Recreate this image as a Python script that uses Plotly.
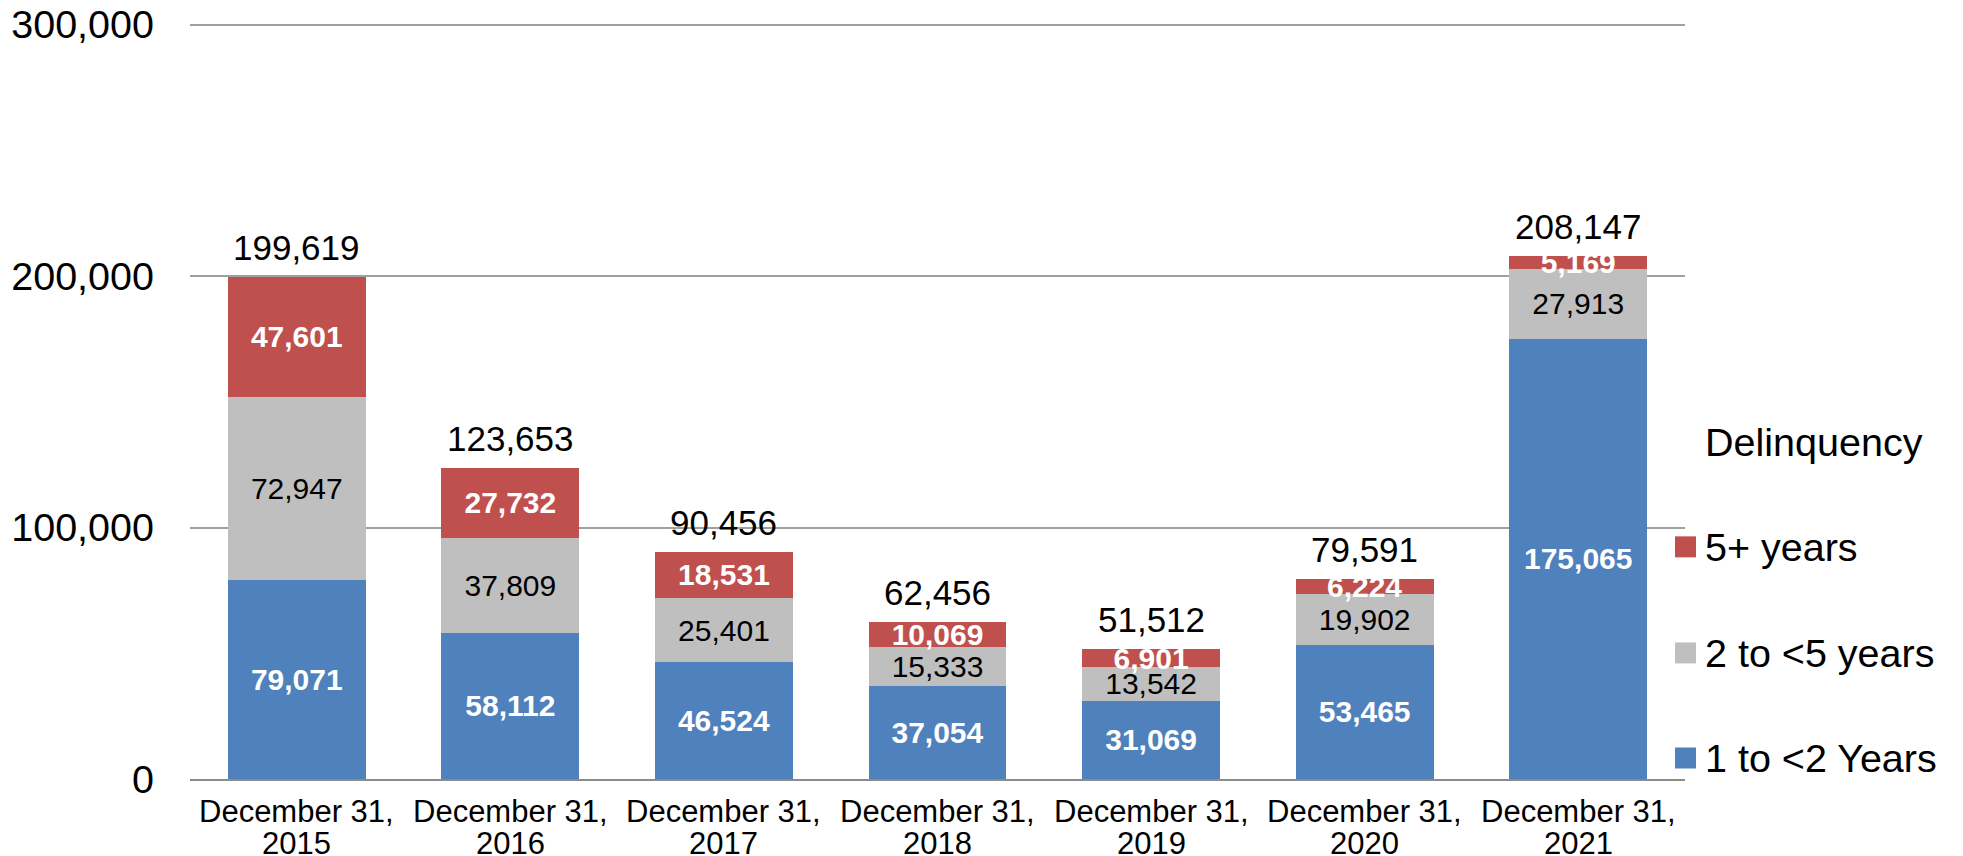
import plotly.graph_objects as go

categories = ["December 31, 2015", "December 31, 2016", "December 31, 2017",
              "December 31, 2018", "December 31, 2019", "December 31, 2020",
              "December 31, 2021"]
one_to_two = [79071, 58112, 46524, 37054, 31069, 53465, 175065]
two_to_five = [72947, 37809, 25401, 15333, 13542, 19902, 27913]
five_plus = [47601, 27732, 18531, 10069, 6901, 6224, 5169]
totals = [199619, 123653, 90456, 62456, 51512, 79591, 208147]
series_names = ["1 to <2 Years", "2 to <5 years", "5+ years"]
legend_title = "Delinquency"
y_ticks = [0, 100000, 200000, 300000]
y_tick_text = ["0", "100,000", "200,000", "300,000"]

BLUE = "#4F81BD"
GRAY = "#BFBFBF"
RED = "#C0504D"
FONT = "Liberation Sans, Arial, sans-serif"

W, H = 1963, 856
L, R, B = 190, 1685, 779  # plot area in pixels
Y_TOP_TICK_PX = 25
Y_MAX = 301000
scale = (B - Y_TOP_TICK_PX) / 300000.0
T = B - scale * Y_MAX

fig = go.Figure()
series = [
    (series_names[0], one_to_two, BLUE, "white", True),
    (series_names[1], two_to_five, GRAY, "black", False),
    (series_names[2], five_plus, RED, "white", True),
]
for name, vals, col, tcol, bold in series:
    fig.add_trace(go.Bar(
        x=categories, y=vals, name=name, marker=dict(color=col, line=dict(width=0)),
        texttemplate="<b>%{y:,}</b>" if bold else "%{y:,}",
        textposition="inside", insidetextanchor="middle", constraintext="none",
        textangle=0,
        textfont=dict(family=FONT, size=30, color=tcol),
        showlegend=False, hoverinfo="skip",
    ))


def px(xp):
    return (xp - L) / (R - L)


def py(yp):
    return (B - yp) / (B - T)


annotations = []
for c, t in zip(categories, totals):
    annotations.append(dict(
        x=c, y=t, xref="x", yref="y", text=f"{t:,}", showarrow=False,
        yanchor="bottom", yshift=8, font=dict(family=FONT, size=35, color="black"),
    ))
    line1, line2 = c.rsplit(" ", 1)
    for txt, yc in ((line1, 811), (line2, 843)):
        annotations.append(dict(
            x=c, y=py(yc), xref="x", yref="paper", text=txt, showarrow=False,
            yanchor="middle", xanchor="center",
            font=dict(family=FONT, size=31, color="black"),
        ))

# manual legend
annotations.append(dict(
    x=px(1703), y=py(442), xref="paper", yref="paper", text=legend_title,
    showarrow=False, xanchor="left", yanchor="middle",
    font=dict(family=FONT, size=39.5, color="black"),
))
shapes = []
legend_items = [(series_names[2], RED, 547), (series_names[1], GRAY, 653), (series_names[0], BLUE, 758)]
for name, col, yc in legend_items:
    shapes.append(dict(
        type="rect", xref="paper", yref="paper",
        x0=px(1675), x1=px(1696), y0=py(yc + 10.5), y1=py(yc - 10.5),
        fillcolor=col, line=dict(width=0),
    ))
    annotations.append(dict(
        x=px(1703), y=py(yc), xref="paper", yref="paper", text=name,
        showarrow=False, xanchor="left", yanchor="middle",
        font=dict(family=FONT, size=39.5, color="black"),
    ))

fig.update_layout(
    barmode="stack",
    bargap=0.354,
    width=W, height=H,
    margin=dict(l=L, r=W - R, t=T, b=H - B, pad=0, autoexpand=False),
    plot_bgcolor="white", paper_bgcolor="white",
    font=dict(family=FONT, color="black"),
    annotations=annotations,
    shapes=shapes,
    showlegend=False,
)
fig.update_yaxes(
    range=[0, Y_MAX], tickvals=y_ticks, ticktext=y_tick_text,
    showgrid=True, gridcolor="#A0A0A0", gridwidth=1.5,
    zeroline=False, showline=False, ticks="", automargin=False,
    tickfont=dict(family=FONT, size=39.5, color="black"),
    ticklabelstandoff=35,
)
fig.update_xaxes(
    showline=True, linecolor="#8C8C8C", linewidth=2, ticks="", automargin=False,
    showticklabels=False,
)

fig.write_html(
    "out.html",
    config={"displayModeBar": False},
    post_script="document.documentElement.style.overflow='hidden';"
                "document.body.style.margin='0';document.body.style.overflow='hidden';",
)
